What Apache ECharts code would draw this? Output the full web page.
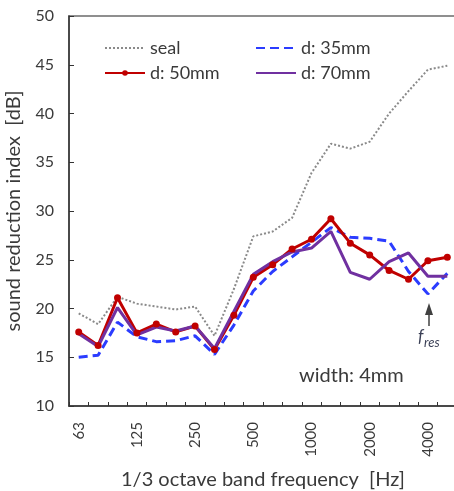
<!DOCTYPE html>
<html>
<head>
<meta charset="utf-8">
<script src="https://cdn.jsdelivr.net/npm/echarts@6/dist/echarts.min.js"></script>
<style>
html,body{margin:0;padding:0;background:#fff;}
#chart{width:454px;height:491px;}
</style>
</head>
<body>
<div id="chart"></div>
<script>
var categories = ['63','80','100','125','160','200','250','315','400','500','630','800','1000','1250','1600','2000','2500','3150','4000','5000'];
var seal = [19.5, 18.4, 21.2, 20.5, 20.2, 19.9, 20.2, 17.2, 22.0, 27.4, 27.9, 29.3, 33.9, 36.9, 36.4, 37.1, 40.0, 42.3, 44.5, 44.9];
var d35  = [15.0, 15.2, 18.6, 17.1, 16.6, 16.7, 17.2, 15.3, 18.3, 21.8, 23.8, 25.3, 26.8, 28.3, 27.3, 27.2, 26.9, 23.8, 21.5, 23.6];
var d50  = [17.6, 16.2, 21.1, 17.5, 18.4, 17.6, 18.2, 15.8, 19.3, 23.2, 24.5, 26.1, 27.1, 29.2, 26.7, 25.5, 23.9, 23.0, 24.9, 25.25];
var d70  = [17.4, 16.1, 20.1, 17.3, 18.1, 17.7, 18.2, 15.9, 19.7, 23.5, 24.8, 25.8, 26.2, 27.9, 23.7, 23.0, 24.8, 25.7, 23.3, 23.3];
var yMin = 10, yMax = 50, yStep = 5;

var FONT = 'Lato';
var TXT = '#3a3a3a';
var noDot = {opacity: 0};
var chart = echarts.init(document.getElementById('chart'), null, {renderer:'canvas'});
chart.setOption({
  animation: false,
  textStyle: {fontFamily: FONT},
  grid: {left: 69, top: 16, right: -3, bottom: 85, show: true, borderColor: '#6b6b6b', borderWidth: 1.5,
         containLabel: false, outerBoundsMode: 'none'},
  legend: [
    {data: [{name: 'seal', itemStyle: noDot}, {name: 'd: 50mm'}], orient: 'vertical', left: 99, top: 34, itemWidth: 40, itemHeight: 7, itemGap: 7,
     textStyle: {fontFamily: FONT, fontSize: 18, color: TXT}},
    {data: [{name: 'd: 35mm', itemStyle: noDot}, {name: 'd: 70mm', itemStyle: noDot}], orient: 'vertical', left: 250, top: 34, itemWidth: 40, itemHeight: 7, itemGap: 7,
     textStyle: {fontFamily: FONT, fontSize: 18, color: TXT}}
  ],
  xAxis: {
    type: 'category', data: categories, boundaryGap: true,
    name: '1/3 octave band frequency  [Hz]', nameLocation: 'middle', nameGap: 64,
    nameTextStyle: {fontFamily: FONT, fontSize: 20, color: TXT},
    axisLine: {lineStyle: {color: '#333', width: 1.5}},
    axisTick: {show: true, inside: true, length: 4, interval: 0, lineStyle: {color: '#333'}},
    axisLabel: {interval: 2, rotate: 90, margin: 16, fontFamily: FONT, fontSize: 15, color: TXT},
    splitLine: {show: false}
  },
  yAxis: {
    type: 'value', min: yMin, max: yMax, interval: yStep,
    name: 'sound reduction index  [dB]', nameLocation: 'middle', nameGap: 45,
    nameTextStyle: {fontFamily: FONT, fontSize: 20, color: TXT},
    axisLine: {show: true, lineStyle: {color: '#333', width: 1.5}},
    axisTick: {show: true, inside: true, length: 5, lineStyle: {color: '#333'}},
    axisLabel: {margin: 15, fontFamily: FONT, fontSize: 16, color: TXT},
    splitLine: {show: false}
  },
  series: [
    {name: 'seal', type: 'line', data: seal, symbol: 'none', lineStyle: {color: '#8a8a8a', width: 2, type: 'dotted'}, itemStyle: {color: '#8a8a8a'}},
    {name: 'd: 35mm', type: 'line', data: d35, symbol: 'none', lineStyle: {color: '#2b3cff', width: 3, type: [9, 5]}, itemStyle: {color: '#2b3cff'}},
    {name: 'd: 50mm', type: 'line', data: d50, symbol: 'circle', symbolSize: 7, lineStyle: {color: '#c00000', width: 3}, itemStyle: {color: '#c00000'}},
    {name: 'd: 70mm', type: 'line', data: d70, symbol: 'none', lineStyle: {color: '#7030a0', width: 3}, itemStyle: {color: '#7030a0'}}
  ],
  graphic: [
    {type: 'text', left: 299, top: 366, style: {text: 'width: 4mm', font: '20px ' + FONT, fill: TXT}},
    {type: 'polygon', shape: {points: [[429, 303], [425, 315], [433, 315]]}, style: {fill: '#404040'}},
    {type: 'line', shape: {x1: 429, y1: 314, x2: 429, y2: 326}, style: {stroke: '#404040', lineWidth: 1.5}},
    {type: 'text', x: 418, y: 328, style: {text: 'f', font: 'italic 17px ' + FONT, fill: '#3a3f55'}},
    {type: 'text', x: 424, y: 336, style: {text: 'res', font: 'italic 13px ' + FONT, fill: '#3a3f55'}}
  ]
});
</script>
</body>
</html>
